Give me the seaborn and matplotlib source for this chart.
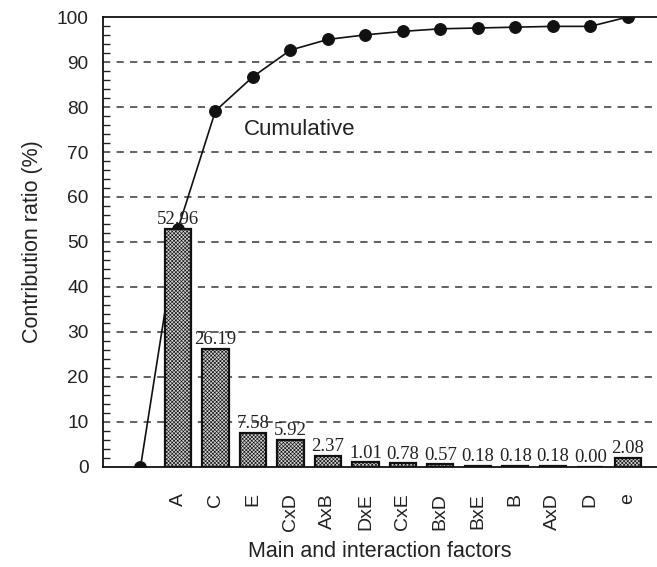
import numpy as np
import pandas as pd
import matplotlib
matplotlib.use("Agg")
import matplotlib.pyplot as plt
from matplotlib.ticker import MultipleLocator
import seaborn as sns

factors = ["A", "C", "E", "CxD", "AxB", "DxE", "CxE", "BxD", "BxE", "B", "AxD", "D", "e"]
contribution = [52.96, 26.19, 7.58, 5.92, 2.37, 1.01, 0.78, 0.57, 0.18, 0.18, 0.18, 0.00, 2.08]
value_labels = ["52.96", "26.19", "7.58", "5.92", "2.37", "1.01", "0.78", "0.57", "0.18", "0.18", "0.18", "0.00", "2.08"]

sns.set_style("white")
plt.rcParams["font.family"] = ["Liberation Sans", "DejaVu Sans"]
plt.rcParams["hatch.color"] = "#5a5a5a"
plt.rcParams["hatch.linewidth"] = 0.45

positions = np.arange(1, len(factors) + 1)
bars = pd.DataFrame({"pos": positions, "value": contribution})
cum = pd.DataFrame({"pos": np.arange(0, len(factors) + 1),
                    "value": np.concatenate([[0.0], np.cumsum(contribution)])})

fig = plt.figure(figsize=(6.57, 5.67), dpi=100)
ax = fig.add_axes([0.1568, 0.1764, 0.8432, 0.7936])

# cumulative curve sits behind the bars
sns.lineplot(data=cum, x="pos", y="value", ax=ax, color="#111111", lw=1.2,
             marker="o", markersize=8.5, markeredgecolor="#111111", zorder=2)

sns.barplot(data=bars, x="pos", y="value", ax=ax, native_scale=True, width=0.7,
            color="#d2d2d2", edgecolor="#111111", linewidth=1.6, saturation=1, zorder=3)
for p in ax.patches:
    p.set_hatch("xxxxxxxxx")

for x, v, t in zip(positions, contribution, value_labels):
    ax.text(x, v + 0.2, t, ha="center", va="bottom", fontsize=13.5,
            family=["Liberation Serif", "DejaVu Serif"], color="#222222", zorder=4)

ax.text(2.77, 75, "Cumulative", fontsize=16, va="center", ha="left", color="#222222")

ax.set_xlim(-1, 13.78)
ax.set_ylim(0, 100)

ax.set_xticks([-1] + list(positions))
ax.set_xticklabels([""] + factors, rotation=90, fontsize=14)
ax.tick_params(axis="x", direction="out", length=9, width=1.2, pad=10, colors="#222222")

ax.yaxis.set_major_locator(MultipleLocator(10))
ax.yaxis.set_minor_locator(MultipleLocator(2))
ax.tick_params(axis="y", which="major", direction="inout", length=14, width=1.2,
               labelsize=13.8, colors="#222222")
ax.tick_params(axis="y", which="minor", direction="in", length=5, width=1.0, left=True)

for yv in range(10, 100, 10):
    ax.axhline(yv, color="#555555", lw=1.3, ls=(0, (4, 3.5)), zorder=1)

for side in ["left", "bottom", "top"]:
    ax.spines[side].set_visible(True)
    ax.spines[side].set_color("#111111")
    ax.spines[side].set_linewidth(1.3)
ax.spines["right"].set_visible(False)
ax.spines["bottom"].set_zorder(5)

ax.set_xlabel("Main and interaction factors", fontsize=15.5, labelpad=7, color="#222222")
ax.set_ylabel("Contribution ratio (%)", fontsize=15.5, labelpad=10, color="#222222")

fig.savefig("out.png", dpi=100)
